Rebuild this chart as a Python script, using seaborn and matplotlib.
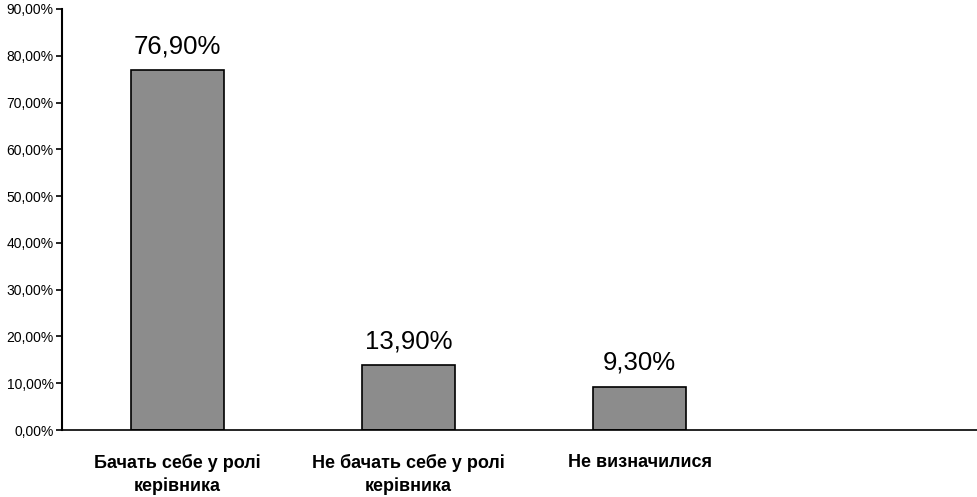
import matplotlib
matplotlib.use("Agg")
from matplotlib import pyplot as plt
import pandas as pd
import seaborn as sns

categories = ["Бачать себе у ролі\nкерівника", "Не бачать себе у ролі\nкерівника", "Не визначилися"]
values = [76.9, 13.9, 9.3]
labels = ["76,90%", "13,90%", "9,30%"]
yticks = [0, 10, 20, 30, 40, 50, 60, 70, 80, 90]

sns.set_style("white")
plt.rcParams['font.family'] = ['Liberation Sans', 'DejaVu Sans']
plt.rcParams['text.color'] = 'black'
plt.rcParams['xtick.color'] = 'black'
plt.rcParams['ytick.color'] = 'black'

df = pd.DataFrame({"cat": categories, "val": values})

fig = plt.figure(figsize=(9.77, 4.97), dpi=100)
ax = fig.add_axes([0.0635, 0.1348, 0.9457, 0.8471])

sns.barplot(data=df, x="cat", y="val", order=categories + [" "], color="#8c8c8c",
            saturation=1, width=0.4, edgecolor="black", linewidth=1.2, ax=ax)

for i, (v, lab) in enumerate(zip(values, labels)):
    ax.text(i, v + 3.6, lab, ha="center", va="baseline", fontsize=18.5, color="black")

ax.set_xlim(-0.5, 3.5)
ax.set_ylim(0, 90)
ax.set_yticks(yticks)
ax.set_yticklabels(["%d,00%%" % t for t in yticks], fontsize=10)
ax.tick_params(axis="y", length=4, width=1.2, direction="out", left=True, pad=2)
ax.tick_params(axis="x", length=0, pad=17)
for t in ax.get_xticklabels():
    t.set_fontsize(13)
    t.set_fontweight("bold")
    t.set_linespacing(1.4)
ax.set_xlabel("")
ax.set_ylabel("")
sns.despine(ax=ax, top=True, right=True)
ax.spines["left"].set_linewidth(1.5)
ax.spines["bottom"].set_linewidth(1.2)
ax.spines["left"].set_color("black")
ax.spines["bottom"].set_color("black")

fig.savefig("out.png", dpi=100)
